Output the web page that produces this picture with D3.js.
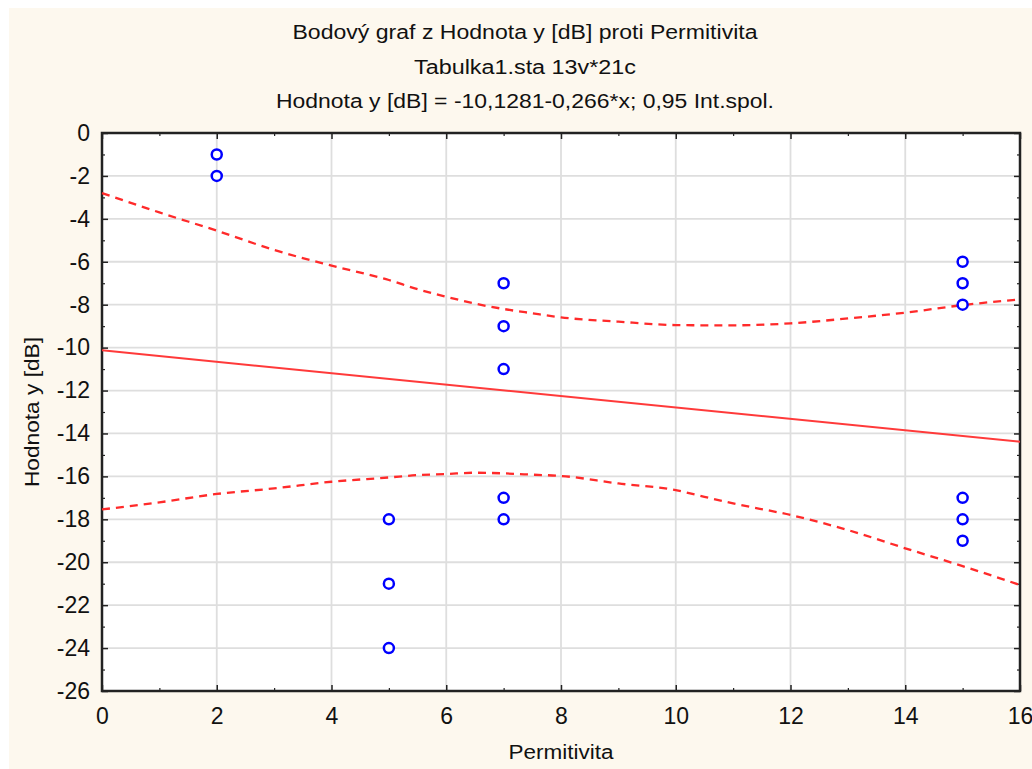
<!DOCTYPE html>
<html>
<head>
<meta charset="utf-8">
<script src="https://cdn.jsdelivr.net/npm/d3@7"></script>
<style>
  body { margin: 0; background: #fff; }
  svg { display: block; font-family: "Liberation Sans", Arial, sans-serif; }
</style>
</head>
<body>
<div id="chart"></div>
<script>
// scatter points
const permX = [2, 2, 5, 5, 5, 7, 7, 7, 7, 7, 15, 15, 15, 15, 15, 15]
const hodnotaY = [-1, -2, -18, -21, -24, -7, -9, -11, -17, -18, -6, -7, -8, -17, -18, -19]

// fitted line: y = -10.1281 - 0.266*x (end points)
const fitX = [0, 16]
const fitY = [-10.1281, -14.3841]

// 0.95 band
const bandX = [0, 1, 2, 3, 4, 5, 5.5, 6, 6.5, 7, 7.5, 8, 9, 10, 10.5, 11, 12, 13, 14, 15, 16]
const upperY = [-2.8, -3.7, -4.55, -5.45, -6.18, -6.85, -7.28, -7.63, -7.95, -8.2, -8.4, -8.59, -8.79, -8.95, -8.96, -8.96, -8.87, -8.64, -8.37, -8.02, -7.75]
const lowerY = [-17.54, -17.21, -16.82, -16.56, -16.25, -16.05, -15.94, -15.89, -15.83, -15.86, -15.92, -15.98, -16.33, -16.64, -16.95, -17.26, -17.8, -18.5, -19.35, -20.18, -21.06]

const xTicks = d3.range(0, 17, 2)
const yTicks = d3.range(-26, 1, 2)

const titles = [
  'Bodový graf z Hodnota y [dB] proti Permitivita',
  'Tabulka1.sta 13v*21c',
  'Hodnota y [dB] = -10,1281-0,266*x; 0,95 Int.spol.'
]
const titleWidths = [465, 222, 498]

const W = 1032, H = 769
const m = { left: 102, right: 1020, top: 133, bottom: 691 }

const svg = d3.select('#chart').append('svg')
    .attr('width', W)
    .attr('height', H)

svg.append('rect')
    .attr('x', 9).attr('y', 8)
    .attr('width', W - 9).attr('height', H - 8)
    .attr('fill', '#fdf8ee')

const x = d3.scaleLinear().domain([0, 16]).range([m.left, m.right])
const y = d3.scaleLinear().domain([-26, 0]).range([m.bottom, m.top])

svg.append('rect')
    .attr('x', m.left).attr('y', m.top)
    .attr('width', m.right - m.left).attr('height', m.bottom - m.top)
    .attr('fill', '#fff')

// grid
const grid = svg.append('g').attr('stroke', '#dedede').attr('stroke-width', 1.8)
grid.selectAll('.gx').data(xTicks.slice(1, -1)).enter().append('line')
    .attr('x1', x).attr('x2', x).attr('y1', m.top).attr('y2', m.bottom)
grid.selectAll('.gy').data(yTicks.slice(1, -1)).enter().append('line')
    .attr('y1', y).attr('y2', y).attr('x1', m.left).attr('x2', m.right)

// axes with inward ticks on all four sides
const minorX = d3.range(1, 16, 2)
const minorY = d3.range(-25, 0, 2)

const addAxis = (axis, tf, major, minor, pad) => {
  const g = svg.append('g').attr('transform', tf)
  g.call(axis.tickValues(major).tickFormat(d => String(d))
      .tickSizeInner(-6).tickSizeOuter(0).tickPadding(pad || 0))
  g.select('.domain').remove()
  g.selectAll('.tick line').attr('stroke', '#222').attr('stroke-width', 1.5)
  if (pad) {
    g.selectAll('.tick text').attr('font-size', 23).attr('fill', '#111')
        .attr('font-family', '"Liberation Sans", Arial, sans-serif')
  } else {
    g.selectAll('.tick text').remove()
  }
  const g2 = svg.append('g').attr('transform', tf)
  g2.call(axis.tickValues(minor).tickSizeInner(-3).tickSizeOuter(0))
  g2.select('.domain').remove()
  g2.selectAll('.tick text').remove()
  g2.selectAll('.tick line').attr('stroke', '#222').attr('stroke-width', 1.2)
}

addAxis(d3.axisBottom(x), `translate(0,${m.bottom})`, xTicks, minorX, 17)
addAxis(d3.axisTop(x), `translate(0,${m.top})`, xTicks, minorX, 0)
addAxis(d3.axisLeft(y), `translate(${m.left},0)`, yTicks, minorY, 12)
addAxis(d3.axisRight(y), `translate(${m.right},0)`, yTicks, minorY, 0)

// frame
svg.append('rect')
    .attr('x', m.left).attr('y', m.top)
    .attr('width', m.right - m.left).attr('height', m.bottom - m.top)
    .attr('fill', 'none').attr('stroke', '#222').attr('stroke-width', 2.5)

const plot = svg.append('g')

const line = d3.line().x(d => x(d[0])).y(d => y(d[1])).curve(d3.curveMonotoneX)

plot.append('path')
    .datum(d3.zip(bandX, upperY))
    .attr('d', line)
    .attr('fill', 'none').attr('stroke', '#ff2a2a').attr('stroke-width', 2.3)
    .attr('stroke-dasharray', '8,6')

plot.append('path')
    .datum(d3.zip(bandX, lowerY))
    .attr('d', line)
    .attr('fill', 'none').attr('stroke', '#ff2a2a').attr('stroke-width', 2.3)
    .attr('stroke-dasharray', '8,6')

plot.append('path')
    .datum(d3.zip(fitX, fitY))
    .attr('d', line)
    .attr('fill', 'none').attr('stroke', '#ff3a3a').attr('stroke-width', 2)

plot.selectAll('circle').data(d3.zip(permX, hodnotaY)).enter().append('circle')
    .attr('cx', d => x(d[0]))
    .attr('cy', d => y(d[1]))
    .attr('r', 5)
    .attr('fill', '#fff')
    .attr('stroke', '#0000ff')
    .attr('stroke-width', 2.5)

// titles
svg.selectAll('.title').data(titles).enter().append('text')
    .attr('x', 525)
    .attr('y', (d, i) => 39 + i * 34.5)
    .attr('text-anchor', 'middle')
    .attr('font-size', 20)
    .attr('textLength', (d, i) => titleWidths[i])
    .attr('lengthAdjust', 'spacingAndGlyphs')
    .attr('fill', '#111')
    .text(d => d)

svg.append('text')
    .attr('x', 561)
    .attr('y', 759)
    .attr('text-anchor', 'middle')
    .attr('font-size', 20)
    .attr('textLength', 105)
    .attr('lengthAdjust', 'spacingAndGlyphs')
    .attr('fill', '#111')
    .text('Permitivita')

svg.append('text')
    .attr('transform', `translate(39,${(m.top + m.bottom) / 2}) rotate(-90)`)
    .attr('text-anchor', 'middle')
    .attr('font-size', 20)
    .attr('textLength', 150)
    .attr('lengthAdjust', 'spacingAndGlyphs')
    .attr('fill', '#111')
    .text('Hodnota y [dB]')
</script>
</body>
</html>
